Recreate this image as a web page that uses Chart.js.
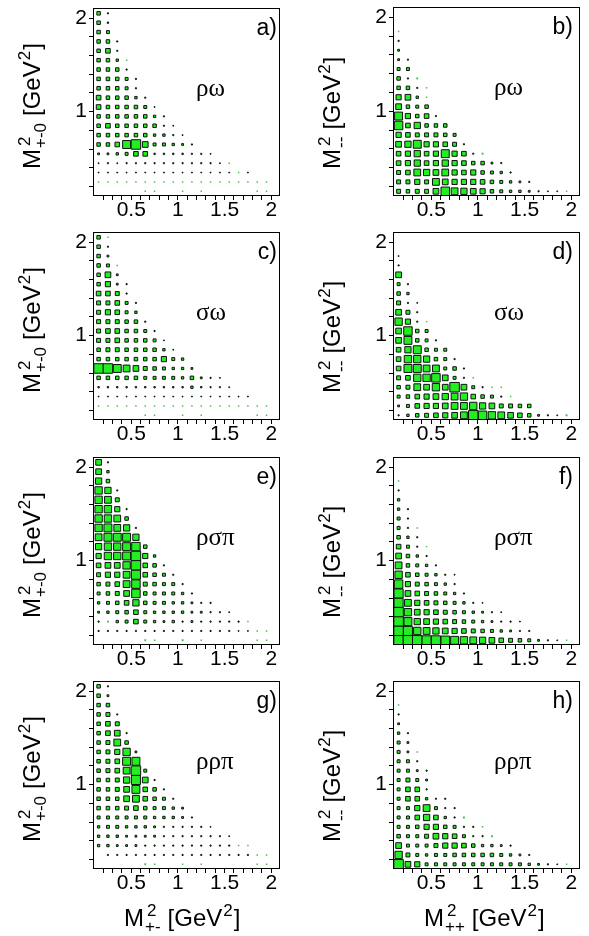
<!DOCTYPE html>
<html>
<head>
<meta charset="utf-8">
<script src="https://cdn.jsdelivr.net/npm/chart.js@4.4.1/dist/chart.umd.min.js"></script>
<style>
  html, body { margin: 0; padding: 0; background: #fff; }
  #wrap { position: relative; width: 589px; height: 936px; overflow: hidden; }
  #wrap canvas { position: absolute; }
</style>
</head>
<body>
<div id="wrap"></div>
<script>
// bin centres, GeV^2 (rows listed from the top of each panel down)
const xCentres = [0.15, 0.25, 0.35, 0.45, 0.55, 0.65, 0.75, 0.85, 0.95, 1.05, 1.15, 1.25, 1.35, 1.45, 1.55, 1.65, 1.75, 1.85, 1.95];
const yCentres = [2.05, 1.95, 1.85, 1.75, 1.65, 1.55, 1.45, 1.35, 1.25, 1.15, 1.05, 0.95, 0.85, 0.75, 0.65, 0.55, 0.45, 0.35, 0.25, 0.15];

const xTickValues = [0.2, 0.3, 0.4, 0.5, 0.6, 0.7, 0.8, 0.9, 1.0, 1.1, 1.2, 1.3, 1.4, 1.5, 1.6, 1.7, 1.8, 1.9, 2.0];
const yTickValues = [0.2, 0.4, 0.6, 0.8, 1.0, 1.2, 1.4, 1.6, 1.8, 2.0];
const xTickLabels = ['0.5', '1', '1.5', '2'];
const yTickLabels = ['1', '2'];

// bin contents, one row per yCentres entry, columns follow xCentres
const rhoOmegaPM = [
  [18, 4],
  [18, 5],
  [18, 14],
  [18, 18, 4],
  [18, 28, 4],
  [18, 18, 10, 1],
  [18, 18, 18, 4],
  [18, 18, 18, 14, 4],
  [18, 18, 18, 14, 4],
  [28, 18, 18, 18, 10, 4],
  [28, 18, 18, 18, 18, 14, 3],
  [18, 18, 18, 18, 18, 18, 10, 4],
  [18, 28, 18, 18, 18, 18, 18, 4, 3],
  [18, 18, 18, 18, 18, 18, 10, 10, 4, 3],
  [18, 18, 28, 71, 110, 40, 14, 14, 10, 7, 4],
  [7, 7, 10, 14, 28, 28, 5, 5, 5, 5, 4, 4, 3],
  [3, 4, 3, 4, 4, 4, 4, 4, 4, 4, 4, 4, 4, 3, 1],
  [3, 3, 3, 3, 3, 3, 3, 3, 3, 3, 3, 3, 3, 3, 3, 1, 3],
  [1, 1, 1, 1, 1, 1, 1, 1, 1, 1, 1, 1, 1, 1, 1, 1, 1, 1, 1],
  [0, 0, 0, 0, 0, 1, 1, 0, 0, 1, 0, 1, 0, 0, 0, 0, 0, 1, 1]
];

const rhoOmegaPP = [
  [],
  [],
  [1],
  [4],
  [7],
  [7, 4],
  [14, 14],
  [18, 4, 2],
  [18, 18, 4, 1],
  [34, 40, 10, 1],
  [40, 18, 14, 18],
  [71, 34, 18, 28, 4],
  [80, 28, 47, 18, 18, 18],
  [34, 28, 22, 22, 22, 18, 14],
  [40, 47, 71, 34, 34, 28, 22, 4],
  [28, 34, 47, 28, 34, 71, 34, 28, 4, 2],
  [28, 34, 47, 28, 34, 47, 34, 28, 18, 18, 7, 4],
  [22, 28, 54, 47, 40, 54, 34, 28, 34, 18, 14, 10, 4],
  [22, 22, 34, 22, 54, 40, 34, 34, 34, 28, 18, 14, 10, 7, 4],
  [22, 18, 22, 22, 40, 80, 54, 47, 40, 34, 18, 14, 10, 10, 7, 4, 3, 3, 1]
];

const sigmaOmegaPM = [
  [18, 1],
  [18, 4],
  [18, 7],
  [18, 14, 1],
  [18, 40, 7],
  [18, 34, 7, 4],
  [28, 28, 22, 4],
  [22, 22, 28, 14, 4],
  [22, 34, 28, 14, 10],
  [22, 22, 22, 18, 18, 4],
  [22, 28, 28, 18, 18, 14, 4],
  [22, 22, 28, 18, 18, 18, 14, 3],
  [18, 22, 22, 18, 18, 18, 18, 10, 3],
  [18, 18, 18, 18, 18, 18, 18, 34, 14, 10],
  [110, 110, 71, 54, 40, 22, 18, 14, 10, 10, 7],
  [18, 18, 18, 18, 18, 14, 14, 14, 14, 10, 18, 7, 4, 3],
  [5, 5, 5, 5, 5, 5, 5, 5, 5, 5, 10, 5, 4, 4, 3],
  [3, 3, 3, 3, 3, 3, 3, 3, 3, 3, 3, 3, 3, 3, 3, 3, 3],
  [1, 1, 1, 1, 1, 1, 1, 1, 1, 1, 1, 1, 1, 1, 1, 1, 1, 1, 1],
  [0, 0, 0, 0, 0, 1, 1, 0, 0, 1, 0, 1, 0, 0, 0, 0, 0, 1, 1]
];

const sigmaOmegaPP = [
  [],
  [],
  [3],
  [4],
  [40],
  [14, 4],
  [18, 10],
  [22, 4, 3],
  [40, 22, 4],
  [62, 34, 4, 1],
  [40, 80, 18, 14],
  [40, 71, 18, 14, 4],
  [28, 47, 71, 18, 14, 14],
  [28, 62, 62, 47, 18, 14, 4],
  [28, 71, 71, 54, 54, 14, 18, 4],
  [22, 28, 62, 62, 80, 40, 14, 4, 1],
  [18, 22, 54, 40, 62, 40, 100, 40, 14, 4, 1, 1],
  [14, 18, 28, 34, 40, 47, 54, 62, 28, 18, 14, 4, 1],
  [7, 14, 28, 34, 34, 40, 54, 54, 62, 47, 40, 22, 22, 18, 18],
  [4, 10, 18, 22, 28, 34, 40, 54, 110, 80, 62, 54, 40, 28, 18, 7, 4, 3, 2]
];

const rhoSigmaPiPM = [
  [40, 4],
  [40, 10],
  [47, 18],
  [62, 47, 4],
  [62, 54, 22],
  [62, 62, 34, 4],
  [62, 62, 54, 18],
  [62, 71, 54, 47, 4],
  [54, 71, 71, 71, 47],
  [47, 62, 62, 71, 80, 18],
  [34, 62, 62, 71, 100, 34, 10],
  [28, 40, 40, 62, 100, 28, 18, 4],
  [22, 34, 34, 54, 90, 28, 18, 14, 4],
  [18, 22, 28, 54, 80, 22, 18, 14, 14, 4],
  [14, 18, 22, 40, 80, 18, 14, 14, 14, 10, 4],
  [10, 14, 18, 28, 47, 18, 14, 14, 10, 10, 7, 4, 4],
  [7, 10, 14, 18, 28, 14, 10, 10, 10, 10, 7, 7, 4, 4, 3],
  [4, 2, 10, 14, 28, 14, 10, 7, 10, 4, 7, 4, 4, 4, 4, 4, 1],
  [4, 4, 4, 4, 4, 4, 4, 4, 4, 4, 4, 4, 4, 4, 4, 3, 3, 1, 1],
  [0, 0, 0, 0, 0, 2, 1, 0, 0, 2, 0, 1, 0, 0, 0, 0, 0, 1, 1]
];

const rhoSigmaPiPP = [
  [],
  [],
  [1],
  [4],
  [10],
  [10, 4],
  [14, 4],
  [14, 4, 1],
  [18, 10, 4],
  [28, 14, 4, 1],
  [40, 18, 10, 4],
  [54, 18, 14, 10, 4],
  [62, 28, 18, 14, 10, 4, 3],
  [80, 34, 22, 18, 14, 10, 4],
  [90, 40, 28, 22, 18, 14, 10, 4],
  [90, 54, 34, 28, 22, 18, 14, 10, 4, 3],
  [100, 62, 40, 34, 28, 22, 18, 14, 10, 7, 4, 3],
  [110, 71, 47, 40, 34, 28, 22, 18, 14, 10, 7, 4, 4, 3],
  [110, 90, 62, 54, 47, 40, 34, 28, 22, 18, 14, 10, 7, 4, 4],
  [110, 110, 100, 90, 90, 80, 71, 62, 54, 47, 40, 28, 22, 18, 14, 7, 4, 3, 1]
];

const rhoRhoPiPM = [
  [18, 4],
  [18, 7],
  [18, 18],
  [18, 22, 4],
  [18, 28, 22],
  [18, 28, 40, 4],
  [18, 22, 54, 18],
  [18, 22, 34, 62, 7],
  [18, 22, 28, 71, 71],
  [18, 22, 28, 54, 100, 14],
  [18, 18, 22, 47, 90, 40, 4],
  [18, 18, 22, 40, 71, 28, 18, 4],
  [18, 18, 18, 40, 54, 28, 18, 14, 4],
  [18, 18, 18, 22, 28, 18, 14, 14, 10, 7],
  [14, 14, 14, 14, 14, 14, 10, 10, 10, 7, 4],
  [10, 14, 14, 10, 10, 10, 7, 4, 4, 4, 4, 4, 3],
  [10, 10, 10, 7, 7, 7, 7, 4, 4, 4, 4, 4, 4, 4, 3],
  [10, 10, 7, 7, 7, 4, 4, 4, 4, 4, 4, 4, 4, 4, 4, 1, 1],
  [0, 4, 4, 4, 4, 4, 4, 4, 4, 4, 4, 4, 4, 4, 4, 4, 4, 1, 1],
  [0, 0, 0, 0, 0, 2, 1, 0, 0, 1, 0, 1, 0, 0, 0, 0, 0, 1, 1]
];

const rhoRhoPiPP = [
  [],
  [],
  [1],
  [4],
  [7],
  [10, 4],
  [14, 7],
  [14, 7, 1],
  [14, 14, 4],
  [14, 14, 7, 4],
  [14, 22, 14, 7],
  [14, 28, 28, 4],
  [14, 28, 28, 10, 4, 4],
  [14, 14, 34, 54, 14, 4, 4],
  [14, 14, 28, 47, 28, 10, 4, 2],
  [14, 14, 18, 34, 34, 18, 14, 4, 4, 1],
  [18, 14, 14, 22, 40, 34, 28, 14, 4, 4, 2],
  [40, 14, 14, 14, 22, 34, 34, 28, 18, 10, 10, 7, 4],
  [62, 22, 14, 10, 14, 14, 18, 18, 18, 18, 18, 14, 10, 7, 4],
  [110, 40, 34, 14, 14, 14, 14, 14, 14, 14, 14, 14, 14, 14, 10, 7, 4, 3, 1]
];

const panels = [
  { rows: rhoOmegaPM,   tag: 'a)', channel: 'ρω',  ySub: '+-0', xSub: null },
  { rows: rhoOmegaPP,   tag: 'b)', channel: 'ρω',  ySub: '--',  xSub: null },
  { rows: sigmaOmegaPM, tag: 'c)', channel: 'σω',  ySub: '+-0', xSub: null },
  { rows: sigmaOmegaPP, tag: 'd)', channel: 'σω',  ySub: '--',  xSub: null },
  { rows: rhoSigmaPiPM, tag: 'e)', channel: 'ρσπ', ySub: '+-0', xSub: null },
  { rows: rhoSigmaPiPP, tag: 'f)', channel: 'ρσπ', ySub: '--',  xSub: null },
  { rows: rhoRhoPiPM,   tag: 'g)', channel: 'ρρπ', ySub: '+-0', xSub: '+-' },
  { rows: rhoRhoPiPP,   tag: 'h)', channel: 'ρρπ', ySub: '--',  xSub: '++' }
];

// page geometry of the 4x2 grid
const colLeft = [0, 295], colWidth = [295, 294], plotLeft = [93, 98];
const rowTop = [0, 224, 449, 673], rowHeight = [224, 225, 224, 263];
const plotW = 187, plotH = 191, yAxisW = 40, xAxisH = 24;

const SANS = '"Liberation Sans", Arial, Helvetica, sans-serif';
Chart.defaults.font.family = SANS;
Chart.defaults.color = '#000';

// box edge grows with the square root of the bin content, capped at the bin width
function boxSide(c) {
  return Math.min(10.6 * Math.sqrt(c / 100), 10.5);
}

function boxRadius(ctx) {
  const s = boxSide(ctx.raw.c);
  return (s < 1.7 ? s + 0.4 : s - 1) / Math.SQRT2;
}

function labelFor(value, labels) {
  const hit = labels.find(l => Math.abs(parseFloat(l) - value) < 1e-6);
  return hit === undefined ? '' : hit;
}

// M with a stacked ^2 / _sub, then [GeV^2]
function drawMassTitle(ctx, sub, x, y, vertical) {
  const big = '24px ' + SANS, small = '17px ' + SANS;
  ctx.save();
  ctx.translate(x, y);
  if (vertical) ctx.rotate(-Math.PI / 2);
  ctx.fillStyle = '#000';
  ctx.textAlign = 'left';
  ctx.textBaseline = 'alphabetic';
  let u = 0;
  ctx.font = big;
  ctx.fillText('M', u, 0);
  u += ctx.measureText('M').width + 1;
  ctx.font = small;
  ctx.fillText('2', u + 2, -10);
  ctx.fillText(sub, u, 6);
  u += Math.max(ctx.measureText('2').width + 2, ctx.measureText(sub).width) + 7;
  ctx.font = big;
  ctx.fillText('[GeV', u, 0);
  u += ctx.measureText('[GeV').width + 1;
  ctx.font = small;
  ctx.fillText('2', u, -10);
  u += ctx.measureText('2').width + 1;
  ctx.font = big;
  ctx.fillText(']', u, 0);
  ctx.restore();
}

const panelDecor = {
  id: 'panelDecor',
  afterDraw(chart, args, opts) {
    const { ctx, chartArea: a } = chart;
    ctx.save();
    ctx.strokeStyle = '#000';
    ctx.lineWidth = 1;
    const l = Math.round(a.left) + 0.5, t = Math.round(a.top) + 0.5;
    const r = Math.round(a.right) - 0.5, b = Math.round(a.bottom) - 0.5;
    ctx.strokeRect(l, t, r - l, b - t);

    ctx.fillStyle = '#000';
    ctx.font = '23px ' + SANS;
    ctx.textAlign = 'right';
    ctx.textBaseline = 'alphabetic';
    ctx.fillText(opts.tag, a.right - opts.tagInset, a.top + 27);

    ctx.font = '25px "Liberation Serif", "Times New Roman", serif';
    ctx.textAlign = 'left';
    ctx.fillText(opts.channel, a.left + opts.channelInset, a.top + 88);
    ctx.restore();

    drawMassTitle(ctx, opts.ySub, a.left - 53, a.bottom - 27, true);
    if (opts.xSub) drawMassTitle(ctx, opts.xSub, a.left + 31, a.bottom + 57, false);
  }
};

const wrap = document.getElementById('wrap');

panels.forEach((p, i) => {
  const col = i % 2, row = Math.floor(i / 2);
  const W = colWidth[col], H = rowHeight[row];
  const canvas = document.createElement('canvas');
  canvas.width = W;
  canvas.height = H;
  canvas.style.left = colLeft[col] + 'px';
  canvas.style.top = rowTop[row] + 'px';
  canvas.style.width = W + 'px';
  canvas.style.height = H + 'px';
  wrap.appendChild(canvas);

  const points = [];
  p.rows.forEach((cells, r) => {
    cells.forEach((c, k) => {
      if (c > 0) points.push({ x: xCentres[k], y: yCentres[r], c: c });
    });
  });

  new Chart(canvas, {
    type: 'scatter',
    data: {
      datasets: [{
        data: points,
        pointStyle: 'rect',
        pointRadius: boxRadius,
        pointHoverRadius: boxRadius,
        pointBorderWidth: ctx => (boxSide(ctx.raw.c) < 1.7 ? 0 : 1),
        pointBorderColor: '#111',
        pointBackgroundColor: ctx => (boxSide(ctx.raw.c) < 1.7 ? 'rgba(40,175,40,0.85)' : '#22ee22')
      }]
    },
    options: {
      responsive: false,
      animation: false,
      devicePixelRatio: 1,
      events: [],
      layout: {
        padding: {
          left: plotLeft[col] - yAxisW,
          right: W - plotLeft[col] - plotW,
          top: 5,
          bottom: H - 5 - plotH - xAxisH
        }
      },
      plugins: {
        legend: { display: false },
        tooltip: { enabled: false },
        panelDecor: {
          tag: p.tag,
          channel: p.channel,
          ySub: p.ySub,
          xSub: p.xSub,
          tagInset: col === 0 ? 3 : 7,
          channelInset: col === 0 ? 103 : 101
        }
      },
      scales: {
        x: {
          type: 'linear',
          min: 0.09,
          max: 2.094,
          afterBuildTicks: scale => { scale.ticks = xTickValues.map(v => ({ value: v })); },
          afterFit: scale => {
            scale.height = xAxisH;
            scale.paddingLeft = 0; scale.paddingRight = 0;
          },
          grid: { drawOnChartArea: false, drawTicks: true, tickLength: 4, color: '#000' },
          border: { display: false },
          ticks: {
            autoSkip: false,
            maxRotation: 0,
            padding: -2,
            font: { size: 21 },
            callback: value => labelFor(value, xTickLabels)
          }
        },
        y: {
          type: 'linear',
          min: 0.10,
          max: 2.11,
          afterBuildTicks: scale => { scale.ticks = yTickValues.map(v => ({ value: v })); },
          afterFit: scale => {
            scale.width = yAxisW;
            scale.paddingTop = 0; scale.paddingBottom = 0;
          },
          grid: { drawOnChartArea: false, drawTicks: true, tickLength: 4, color: '#000' },
          border: { display: false },
          ticks: {
            autoSkip: false,
            padding: 2,
            font: { size: 21 },
            callback: value => labelFor(value, yTickLabels)
          }
        }
      }
    },
    plugins: [panelDecor]
  });
});
</script>
</body>
</html>
